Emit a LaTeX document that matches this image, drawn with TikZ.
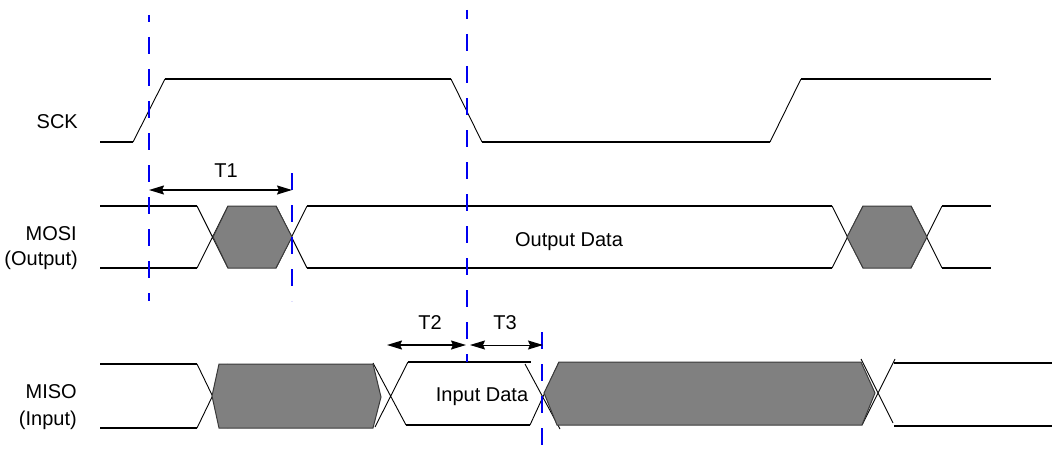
\documentclass[tikz,border=0pt]{standalone}
\usepackage{fontspec}
\setmainfont{Liberation Sans}
\usetikzlibrary{arrows.meta}
\definecolor{busgray}{HTML}{808080}
\definecolor{busedge}{HTML}{3A3A3A}
\definecolor{markblue}{HTML}{0000F0}
\tikzset{
  lvl/.style={line width=2pt, line cap=butt},
  trans/.style={line width=0.9pt},
  bus/.style={fill=busgray, draw=busedge, line width=1pt, line join=miter},
  marker/.style={draw=markblue, line width=1.8pt, dash pattern=on 17pt off 15pt},
  span/.style={line width=1.4pt, {Stealth[length=15pt,width=9pt,inset=2pt]}-{Stealth[length=15pt,width=9pt,inset=2pt]}},
  lbl/.style={font=\fontsize{20}{24}\selectfont, inner sep=0pt}
}
\begin{document}
\begin{tikzpicture}[x=1pt,y=-1pt]
\useasboundingbox (0,0) rectangle (1052,460);
\fill[white] (0,0) rectangle (1052,460);

% ---------- SCK ----------
\draw[lvl] (100,142)--(133,142);
\draw[trans] (133,142)--(165,79);
\draw[lvl] (165,79)--(451,79);
\draw[trans] (451,79)--(482,142);
\draw[lvl] (482,142)--(770,142);
\draw[trans] (770,142)--(801,79);
\draw[lvl] (801,79)--(991,79);

% ---------- MOSI ----------
\draw[lvl] (100,206)--(197,206) (100,268)--(197,268);
\draw[trans] (197,206)--(228,268) (197,268)--(228,206);
\draw[trans] (276,206)--(307,268) (276,268)--(307,206);
\filldraw[bus] (213,237)--(228,206)--(276,206)--(292,237)--(276,268)--(228,268)--cycle;
\draw[lvl] (307,206)--(832,206) (307,268)--(832,268);
\draw[trans] (832,206)--(863,268) (832,268)--(863,206);
\draw[trans] (911,206)--(942,268) (911,268)--(942,206);
\filldraw[bus] (847,237)--(863,206)--(911,206)--(927,237)--(911,268)--(863,268)--cycle;
\draw[lvl] (942,206)--(991,206) (942,268)--(991,268);

% ---------- MISO ----------
\draw[lvl] (100,364)--(197,364) (100,428)--(197,428);
\draw[trans] (197,364)--(228,428) (197,428)--(228,364);
\draw[trans] (373,363)--(406,425) (375,427)--(408,362);
\filldraw[bus] (212,396)--(219,364)--(373,364)--(381,397)--(373,428)--(219,428)--cycle;
\draw[lvl] (408,362)--(531,362) (406,425)--(530,425);
\draw[trans] (525,364)--(560,429) (530,425)--(559,362);
\draw[trans] (861,359)--(893,423) (862,425)--(895,359);
\filldraw[bus] (544,393)--(559,362)--(861,362)--(875,393)--(862,425)--(557,425)--cycle;
\draw[lvl] (894,363)--(1052,363) (894,426)--(1052,426);

% ---------- markers ----------
\coordinate (m1a) at (149,15);  \coordinate (m1b) at (149,301);
\coordinate (m2a) at (292,173); \coordinate (m2b) at (292,301);
\coordinate (m3a) at (467,10);  \coordinate (m3b) at (467,362);
\coordinate (m4a) at (542,332); \coordinate (m4b) at (542,462);
\draw[marker, dash phase=10pt] (m1a)--(m1b);
\draw[marker] (m2a)--(m2b);
\draw[marker, dash phase=8pt] (m3a)--(m3b);
\draw[marker] (m4a)--(m4b);

% ---------- spans ----------
\coordinate (t1a) at (149,190); \coordinate (t1b) at (292,190);
\coordinate (t2a) at (387,345); \coordinate (t2b) at (466,345);
\coordinate (t3a) at (470,345); \coordinate (t3b) at (543,345);
\draw[span] (t1a)--(t1b);
\draw[span] (t2a)--(t2b);
\draw[span, line width=1pt] (t3a)--(t3b);

% ---------- labels ----------
\node[lbl, anchor=base east] (sck) at (78,128) {SCK};
\node[lbl, anchor=base east] (mosi) at (77,240) {MOSI};
\node[lbl, anchor=base east] (mosio) at (78,265) {(Output)};
\node[lbl, anchor=base east] (miso) at (77,398) {MISO};
\node[lbl, anchor=base east] (misoi) at (77,425) {(Input)};
\node[lbl, anchor=base] (t1) at (226,177) {T1};
\node[lbl, anchor=base] (t2) at (430,329) {T2};
\node[lbl, anchor=base] (t3) at (505,329) {T3};
\node[lbl, anchor=base] (odata) at (569,246) {Output Data};
\node[lbl, anchor=base] (idata) at (482,401) {Input Data};
\end{tikzpicture}
\end{document}
